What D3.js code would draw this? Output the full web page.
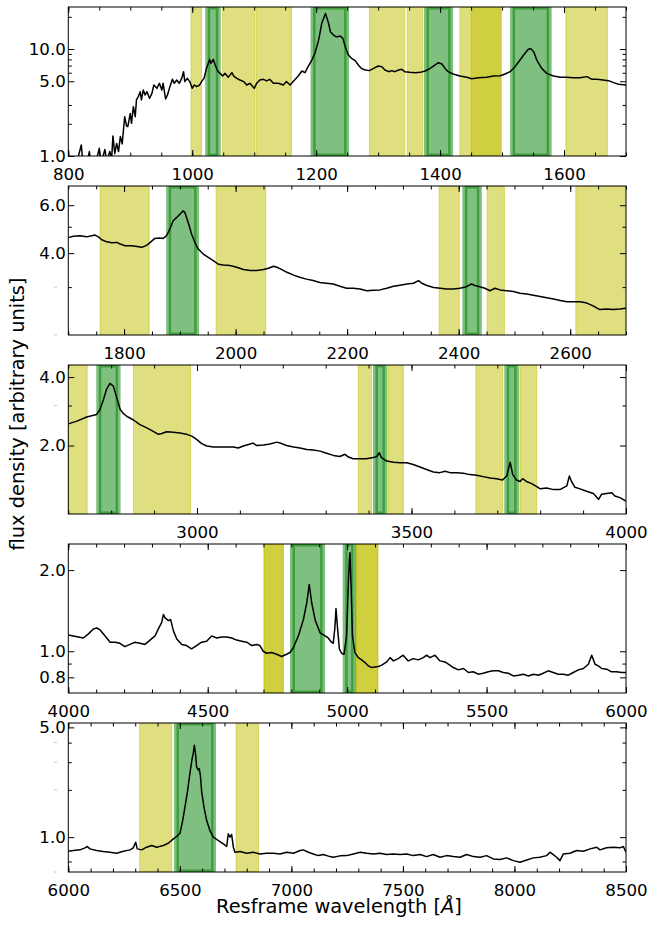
<!DOCTYPE html>
<html>
<head>
<meta charset="utf-8">
<script src="https://cdn.jsdelivr.net/npm/d3@7"></script>
<style>
  body { margin: 0; background: #fff; }
  svg text { font-family: "DejaVu Sans", sans-serif; fill: #000; }
</style>
</head>
<body>
<svg id="chart" width="656" height="927"></svg>
<script>
// spectrum: [rest wavelength (A), flux]
const spec1 = [[812,0.8],[821,1.27],[824,0.8],[830,0.85],[834,1.10],[837,0.8],[845,0.9],[850,1.18],[853,0.85],[859,1.15],[862,0.9],[867,1.10],[870,0.95],[872,1.54],[875,1.05],[878,1.31],[881,1.1],[884,1.52],[887,1.3],[889,1.75],[891,2.33],[894,1.9],[896,1.88],[900,2.50],[902,2.02],[905,2.89],[908,2.33],[910,3.34],[913,3.59],[916,3.99],[918,3.34],[921,4.14],[924,3.72],[927,3.99],[931,3.46],[935,3.85],[938,4.61],[943,4.29],[947,4.78],[951,4.14],[953,4.78],[957,3.41],[960,3.72],[964,4.45],[968,5.21],[971,4.78],[975,5.13],[979,4.78],[983,5.32],[986,6.13],[988,4.96],[992,5.32],[996,4.96],[1000,4.29],[1003,4.61],[1007,4.45],[1012,4.61],[1015,4.96],[1019,5.32],[1023,6.59],[1028,8.0],[1030,7.34],[1034,8.0],[1037,7.09],[1041,6.23],[1045,5.92],[1049,5.59],[1053,5.92],[1058,5.44],[1064,6.01],[1067,5.59],[1072,5.32],[1077,5.13],[1083,4.96],[1088,4.61],[1093,4.78],[1100,4.29],[1104,4.78],[1109,5.13],[1115,5.21],[1120,5.03],[1125,5.21],[1131,4.78],[1139,4.78],[1147,4.61],[1152,4.96],[1158,4.61],[1163,4.96],[1171,5.59],[1177,6.23],[1182,6.01],[1187,6.84],[1193,7.89],[1198,9.12],[1204,12.1],[1209,17.4],[1215,21.5],[1220,17.4],[1223,14.5],[1228,13.5],[1233,13.0],[1239,13.2],[1243,12.6],[1247,10.5],[1252,8.8],[1257,8.18],[1263,7.78],[1268,7.09],[1273,6.59],[1279,6.36],[1286,6.28],[1292,6.55],[1300,6.94],[1306,6.84],[1311,6.36],[1317,6.14],[1322,6.28],[1327,6.14],[1333,6.36],[1338,6.46],[1343,6.14],[1351,6.05],[1360,6.01],[1368,6.05],[1376,6.23],[1384,6.59],[1392,7.09],[1397,7.45],[1403,7.24],[1408,6.59],[1413,6.14],[1421,5.84],[1432,5.59],[1443,5.44],[1451,5.28],[1462,5.40],[1475,5.44],[1486,5.59],[1497,5.63],[1505,5.84],[1513,6.14],[1521,6.84],[1529,7.89],[1537,9.12],[1542,9.9],[1546,10.1],[1551,9.44],[1556,7.89],[1564,6.59],[1572,5.92],[1583,5.59],[1594,5.44],[1604,5.44],[1615,5.40],[1626,5.40],[1637,5.52],[1645,5.21],[1653,5.21],[1663,5.13],[1672,5.06],[1680,4.85],[1688,4.68],[1700,4.61]];

const spec2 = [[1700,4.56],[1709,4.61],[1721,4.63],[1733,4.59],[1742,4.63],[1748,4.66],[1754,4.59],[1760,4.48],[1769,4.40],[1778,4.37],[1787,4.38],[1793,4.32],[1802,4.26],[1814,4.26],[1823,4.23],[1832,4.20],[1841,4.28],[1849,4.42],[1855,4.53],[1864,4.55],[1870,4.53],[1876,4.63],[1882,4.90],[1888,5.26],[1894,5.40],[1900,5.56],[1906,5.72],[1909,5.64],[1915,5.18],[1921,4.70],[1927,4.38],[1933,4.14],[1942,3.97],[1951,3.86],[1960,3.75],[1969,3.64],[1978,3.62],[1990,3.60],[2002,3.55],[2014,3.48],[2026,3.45],[2038,3.45],[2050,3.48],[2059,3.52],[2068,3.58],[2074,3.55],[2083,3.48],[2092,3.40],[2104,3.32],[2115,3.26],[2127,3.21],[2139,3.17],[2151,3.12],[2163,3.10],[2175,3.08],[2187,3.02],[2199,2.97],[2211,2.97],[2223,2.95],[2235,2.91],[2247,2.92],[2259,2.93],[2271,2.97],[2283,3.02],[2295,3.05],[2307,3.08],[2319,3.10],[2328,3.17],[2334,3.10],[2343,3.04],[2355,2.99],[2367,2.97],[2378,2.95],[2390,2.95],[2402,2.97],[2414,3.01],[2423,3.08],[2429,3.04],[2438,3.01],[2447,2.97],[2456,2.91],[2465,2.97],[2474,2.93],[2486,2.91],[2498,2.89],[2510,2.85],[2522,2.83],[2534,2.80],[2546,2.77],[2558,2.74],[2570,2.71],[2582,2.68],[2594,2.65],[2606,2.65],[2618,2.65],[2630,2.62],[2641,2.56],[2653,2.48],[2665,2.49],[2677,2.48],[2689,2.49],[2700,2.51]];

const spec3 = [[2700,2.49],[2720,2.56],[2743,2.67],[2766,2.74],[2774,2.88],[2782,3.19],[2789,3.53],[2797,3.75],[2805,3.65],[2813,3.24],[2821,2.88],[2828,2.77],[2836,2.69],[2852,2.59],[2867,2.47],[2883,2.39],[2898,2.31],[2910,2.24],[2918,2.26],[2929,2.30],[2945,2.29],[2960,2.27],[2976,2.24],[2988,2.20],[2999,2.13],[3011,2.04],[3023,1.99],[3038,1.97],[3054,1.97],[3069,1.97],[3085,1.97],[3096,1.95],[3108,1.99],[3120,2.02],[3131,2.05],[3139,2.00],[3155,2.01],[3170,2.03],[3186,2.07],[3197,2.04],[3209,2.00],[3225,1.97],[3240,1.95],[3256,1.92],[3271,1.91],[3287,1.89],[3302,1.85],[3318,1.81],[3333,1.79],[3345,1.83],[3353,1.78],[3364,1.75],[3380,1.75],[3395,1.75],[3411,1.77],[3419,1.79],[3425,1.86],[3430,1.77],[3442,1.71],[3458,1.69],[3473,1.68],[3489,1.68],[3504,1.65],[3520,1.61],[3535,1.57],[3551,1.53],[3566,1.52],[3578,1.54],[3590,1.52],[3605,1.52],[3621,1.51],[3636,1.49],[3652,1.48],[3667,1.46],[3683,1.44],[3698,1.43],[3712,1.41],[3722,1.47],[3730,1.69],[3736,1.49],[3745,1.41],[3753,1.39],[3759,1.43],[3768,1.39],[3780,1.36],[3792,1.32],[3800,1.29],[3815,1.30],[3831,1.28],[3846,1.28],[3862,1.33],[3868,1.47],[3873,1.39],[3881,1.31],[3893,1.29],[3908,1.26],[3924,1.23],[3936,1.16],[3943,1.22],[3955,1.23],[3967,1.24],[3974,1.20],[3986,1.18],[4000,1.14]];

const spec4 = [[4000,1.15],[4018,1.14],[4036,1.13],[4054,1.12],[4072,1.16],[4090,1.21],[4102,1.22],[4114,1.20],[4132,1.14],[4150,1.08],[4168,1.08],[4185,1.07],[4203,1.04],[4221,1.06],[4239,1.08],[4257,1.07],[4275,1.06],[4293,1.10],[4311,1.14],[4323,1.21],[4335,1.28],[4341,1.37],[4347,1.33],[4359,1.30],[4367,1.31],[4377,1.19],[4389,1.11],[4407,1.06],[4424,1.05],[4442,1.02],[4460,1.05],[4478,1.08],[4496,1.09],[4514,1.14],[4532,1.12],[4550,1.13],[4568,1.13],[4586,1.12],[4604,1.10],[4622,1.09],[4640,1.08],[4658,1.05],[4676,1.06],[4687,1.05],[4699,1.00],[4711,0.983],[4729,0.989],[4747,0.975],[4765,0.956],[4783,0.975],[4795,0.989],[4807,1.03],[4825,1.14],[4843,1.31],[4855,1.51],[4864,1.77],[4873,1.51],[4885,1.31],[4903,1.17],[4921,1.14],[4932,1.12],[4944,1.08],[4950,1.07],[4956,1.22],[4960,1.44],[4965,1.24],[4972,1.02],[4980,0.983],[4989,0.975],[4998,1.14],[5004,1.75],[5008,2.19],[5010,2.32],[5014,1.75],[5019,1.14],[5028,0.989],[5040,0.947],[5052,0.929],[5064,0.908],[5076,0.882],[5088,0.870],[5100,0.875],[5112,0.878],[5124,0.888],[5142,0.913],[5154,0.947],[5166,0.921],[5183,0.939],[5201,0.967],[5219,0.921],[5237,0.939],[5255,0.929],[5273,0.947],[5285,0.967],[5297,0.947],[5315,0.967],[5333,0.921],[5351,0.913],[5363,0.895],[5381,0.870],[5399,0.853],[5417,0.863],[5435,0.834],[5452,0.839],[5470,0.822],[5488,0.829],[5506,0.839],[5524,0.846],[5542,0.846],[5560,0.834],[5578,0.829],[5596,0.810],[5614,0.815],[5632,0.822],[5650,0.810],[5668,0.822],[5686,0.815],[5703,0.829],[5721,0.846],[5739,0.834],[5757,0.822],[5775,0.822],[5793,0.815],[5811,0.834],[5829,0.853],[5847,0.863],[5865,0.895],[5877,0.967],[5889,0.895],[5901,0.882],[5913,0.863],[5931,0.858],[5948,0.839],[5966,0.839],[5984,0.834],[6000,0.834]];

const spec5 = [[6000,0.814],[6023,0.822],[6052,0.830],[6075,0.855],[6085,0.872],[6097,0.842],[6127,0.822],[6157,0.810],[6187,0.802],[6217,0.790],[6247,0.814],[6277,0.830],[6291,0.855],[6302,0.929],[6309,0.842],[6329,0.830],[6351,0.863],[6374,0.885],[6396,0.863],[6426,0.885],[6448,0.915],[6471,0.976],[6486,1.01],[6501,1.06],[6513,1.28],[6523,1.56],[6534,1.94],[6545,2.54],[6554,3.09],[6560,3.41],[6565,3.85],[6571,3.33],[6575,2.80],[6583,2.67],[6587,2.73],[6592,2.48],[6598,1.94],[6608,1.56],[6620,1.28],[6635,1.10],[6650,1.00],[6673,0.952],[6695,0.907],[6710,0.872],[6717,1.05],[6725,1.00],[6732,1.04],[6740,0.863],[6747,0.802],[6770,0.810],[6800,0.790],[6829,0.802],[6859,0.782],[6889,0.790],[6919,0.790],[6949,0.782],[6979,0.802],[7009,0.790],[7039,0.822],[7054,0.830],[7076,0.802],[7098,0.782],[7121,0.763],[7143,0.775],[7173,0.752],[7188,0.745],[7218,0.760],[7248,0.763],[7278,0.782],[7308,0.802],[7338,0.790],[7367,0.782],[7397,0.790],[7427,0.775],[7457,0.782],[7487,0.775],[7517,0.782],[7547,0.763],[7577,0.775],[7606,0.752],[7636,0.775],[7666,0.745],[7696,0.763],[7726,0.752],[7756,0.745],[7786,0.775],[7816,0.752],[7846,0.745],[7875,0.763],[7905,0.727],[7935,0.720],[7965,0.738],[7995,0.709],[8025,0.692],[8055,0.716],[8085,0.738],[8114,0.745],[8144,0.763],[8159,0.802],[8174,0.775],[8189,0.745],[8204,0.709],[8219,0.782],[8249,0.790],[8279,0.822],[8309,0.814],[8339,0.842],[8369,0.863],[8383,0.830],[8413,0.855],[8443,0.863],[8473,0.855],[8488,0.872],[8500,0.802]];

// continuum windows (yellow) and line windows (green), [start, end] in A
const yellow1 = [[998,1015],[1049,1101],[1103,1160],[1286,1343],[1347,1372],[1432,1499],[1450,1497],[1603,1670]];
const green1 = [[1025,1042],[1195,1249],[1378,1417],[1517,1576]];
const yellow2 = [[1757,1845],[1965,2054],[2365,2401],[2451,2482],[2610,2720]];
const green2 = [[1880,1930],[2411,2437]];
const yellow3 = [[2680,2744],[2852,2985],[3376,3407],[3446,3481],[3650,3713],[3753,3792]];
const green3 = [[2771,2816],[3416,3438],[3722,3745]];
const yellow4 = [[4702,4771],[4702,4771],[5032,5110],[5032,5110]];
const green4 = [[4804,4912],[4993,5023]];
const yellow5 = [[6320,6464],[6752,6853]];
const green5 = [[6485,6651]];

// axis ranges and ticks
const xRanges = [[800,1700],[1700,2700],[2700,4000],[4000,6000],[6000,8500]];
const yRanges = [[1,24.7],[2.0,7.06],[1.0,4.52],[0.70,2.5],[0.6,5.33]];
const xLabels = [[800,1000,1200,1400,1600],[1800,2000,2200,2400,2600],[3000,3500,4000],[4000,4500,5000,5500,6000],[6000,6500,7000,7500,8000,8500]];
const xMinorStep = [50,50,100,100,100];
const yLabels = [[1,5,10],[4,6],[2,4],[0.8,1,2],[1,5]];
const yMinor = [[2,3,6,7,8,9,20],[3,5],[3],[0.9],[0.7,2,3,4]];
const yFaint = [[],[2,3],[3],[],[0.6,2,3,4]];

const specs = [spec1, spec2, spec3, spec4, spec5];
const yellows = [yellow1, yellow2, yellow3, yellow4, yellow5];
const greens = [green1, green2, green3, green4, green5];

const svg = d3.select('#chart');
const left = 68.3, right = 626, top0 = 7, pitch = 179, ph = 149;
const fmt = d3.format('.1f');

specs.forEach((spec, i) => {
    const top = top0 + i * pitch;
    const x = d3.scaleLinear().domain(xRanges[i]).range([left, right]);
    const y = d3.scaleLog().domain(yRanges[i]).range([top + ph, top]);

    const clipId = 'clip' + i;
    svg.append('clipPath').attr('id', clipId)
        .append('rect')
        .attr('x', left).attr('y', top)
        .attr('width', right - left).attr('height', ph);

    const g = svg.append('g').attr('clip-path', `url(#${clipId})`);

    // yellow bands
    g.selectAll('rect.yb')
        .data(yellows[i])
        .enter().append('rect')
        .attr('class', 'yb')
        .attr('x', d => x(d[0]))
        .attr('width', d => x(d[1]) - x(d[0]))
        .attr('y', top)
        .attr('height', ph)
        .style('fill', 'rgb(191,191,0)')
        .style('fill-opacity', 0.5)
        .style('stroke', 'rgb(191,191,0)')
        .style('stroke-opacity', 0.5)
        .style('stroke-width', 1);

    // green bands
    g.selectAll('rect.gb')
        .data(greens[i])
        .enter().append('rect')
        .attr('class', 'gb')
        .attr('x', d => x(d[0]))
        .attr('width', d => x(d[1]) - x(d[0]))
        .attr('y', top)
        .attr('height', ph)
        .style('fill', 'rgb(0,128,0)')
        .style('fill-opacity', 0.5)
        .style('stroke', 'rgb(0,128,0)')
        .style('stroke-opacity', 0.5)
        .style('stroke-width', 5);

    const line = d3.line()
        .x(d => x(d[0]))
        .y(d => y(d[1]));

    g.append('path')
        .attr('d', line(spec))
        .style('fill', 'none')
        .style('stroke', '#000')
        .style('stroke-width', 1.5)
        .style('stroke-linejoin', 'round');

    // axes, ticks pointing inwards
    const xMinorTicks = d3.range(xRanges[i][0], xRanges[i][1] + 1, xMinorStep[i]);
    const axes = [
        [d3.axisBottom(x).tickValues(xMinorTicks).tickFormat('').tickSize(-3.5), top + ph],
        [d3.axisTop(x).tickValues(xMinorTicks).tickFormat('').tickSize(-3.5), top],
        [d3.axisBottom(x).tickValues(xLabels[i]).tickFormat(d3.format('d')).tickSize(-6).tickPadding(12.2), top + ph],
        [d3.axisTop(x).tickValues(xLabels[i]).tickFormat('').tickSize(-6), top],
    ];
    axes.forEach(([ax, ty]) => {
        const a = svg.append('g')
            .attr('transform', `translate(0,${ty})`)
            .call(ax.tickSizeOuter(0));
        a.select('.domain').remove();
        a.selectAll('text').style('font-size', '16.67px').style('font-family', '"DejaVu Sans", sans-serif');
    });

    const yAxes = [
        [d3.axisLeft(y).tickValues(yMinor[i]).tickFormat('').tickSize(-3.5), left],
        [d3.axisRight(y).tickValues(yMinor[i]).tickFormat('').tickSize(-3.5), right],
        [d3.axisLeft(y).tickValues(yLabels[i]).tickFormat(fmt).tickSize(-6).tickPadding(2.5), left],
        [d3.axisRight(y).tickValues(yLabels[i]).tickFormat('').tickSize(-6), right],
    ];
    yAxes.forEach(([ax, tx]) => {
        const a = svg.append('g')
            .attr('transform', `translate(${tx},0)`)
            .call(ax.tickSizeOuter(0));
        a.select('.domain').remove();
        a.selectAll('text').style('font-size', '16.67px').style('font-family', '"DejaVu Sans", sans-serif');
    });

    // faint minor tick labels
    svg.selectAll(null)
        .data(yFaint[i])
        .enter().append('line')
        .attr('x1', 54).attr('x2', 57)
        .attr('y1', d => y(d)).attr('y2', d => y(d))
        .style('stroke', '#c8c8c8')
        .style('stroke-width', 1);

    // frame
    svg.append('rect')
        .attr('x', left).attr('y', top)
        .attr('width', right - left).attr('height', ph)
        .style('fill', 'none')
        .style('stroke', '#000')
        .style('stroke-width', 1);
});

// axis labels
svg.append('text')
    .attr('transform', 'translate(24,414) rotate(-90)')
    .attr('text-anchor', 'middle')
    .style('font-size', '19.4px')
    .text('flux density [arbitrary units]');

const xl = svg.append('text')
    .attr('x', 339)
    .attr('y', 913)
    .attr('text-anchor', 'middle')
    .style('font-size', '19.4px');
xl.append('tspan').text('Resframe wavelength [');
xl.append('tspan').style('font-style', 'italic').text('Å');
xl.append('tspan').text(']');
</script>
</body>
</html>
